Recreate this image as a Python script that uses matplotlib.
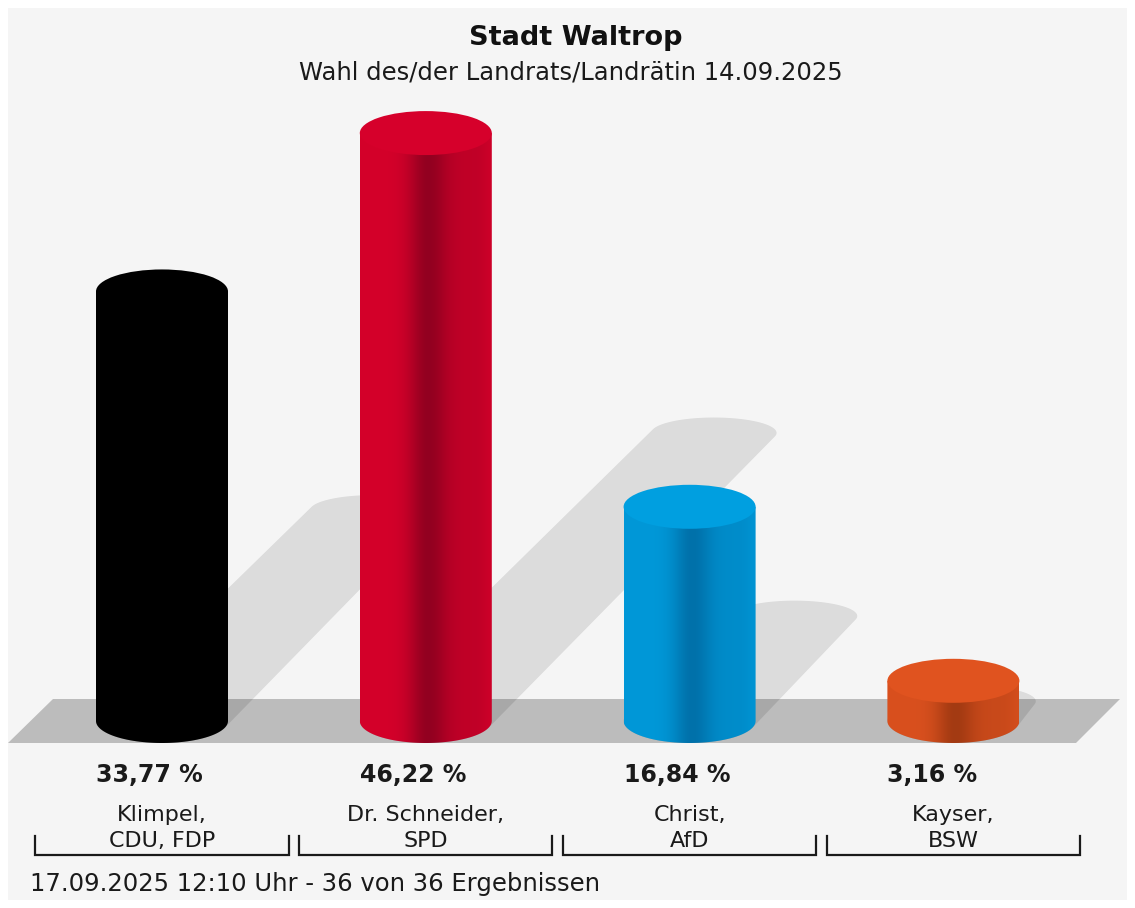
import numpy as np
import matplotlib.pyplot as plt
from matplotlib.colors import to_rgb
from matplotlib.patches import Polygon, Ellipse, Rectangle

# data
names = ["Klimpel,\nCDU, FDP", "Dr. Schneider,\nSPD", "Christ,\nAfD", "Kayser,\nBSW"]
values = [33.77, 46.22, 16.84, 3.16]
side_light = ["#000000", "#d4002a", "#0098d8", "#d9501e"]
side_dark = ["#000000", "#920020", "#0071aa", "#a33a12"]
top_colors = ["#000000", "#d6002b", "#009fe0", "#e0531f"]
title = "Stadt Waltrop"
subtitle = "Wahl des/der Landrats/Landrätin 14.09.2025"
footer = "17.09.2025 12:10 Uhr - 36 von 36 Ergebnissen"

# layout in pixels of the 1135x908 picture
W, H = 1135, 908
X0, DX = 162, 263.8   # centre of first bar, spacing
Y0, DY = 721, 12.72   # baseline (from top), px per percent
A, B = 66, 22         # cylinder radii
S = 0.49              # shadow shear


def xd(px):
    return (px - X0) / DX


def yd(py):
    return (Y0 - py) / DY


def hull(pts):
    '''monotone chain convex hull'''
    pts = sorted(map(tuple, pts))

    def cross(o, a, b):
        return (a[0] - o[0]) * (b[1] - o[1]) - (a[1] - o[1]) * (b[0] - o[0])
    lower, upper = [], []
    for p in pts:
        while len(lower) >= 2 and cross(lower[-2], lower[-1], p) <= 0:
            lower.pop()
        lower.append(p)
    for p in reversed(pts):
        while len(upper) >= 2 and cross(upper[-2], upper[-1], p) <= 0:
            upper.pop()
        upper.append(p)
    return lower[:-1] + upper[:-1]


fig = plt.figure(figsize=(W / 100, H / 100), dpi=100, facecolor="white")
ax = fig.add_axes([0, 0, 1, 1])
ax.axis("off")

a = A / DX
b = B / DY
th = np.linspace(0, 2 * np.pi, 120)

# grey panel with white margin
ax.add_patch(Rectangle((8 / W, 8 / H), (W - 16) / W, (H - 16) / H,
                       transform=ax.transAxes, fc="#f5f5f5", ec="none", zorder=0))

# floor
ax.add_patch(Polygon([(xd(53), yd(699)), (xd(1120), yd(699)), (xd(1076), yd(743)), (xd(8), yd(743))],
                     closed=True, fc="#bcbcbc", ec="none", zorder=1))

for i, v in enumerate(values):
    # shadow
    dx = S * v * DY / DX
    dy = S * v
    base = np.column_stack([i + a * np.cos(th), b * np.sin(th)])
    top = np.column_stack([i + dx + a * 0.95 * np.cos(th), dy + 0.7 * b * np.sin(th)])
    ax.add_patch(Polygon(hull(np.vstack([base, top])), closed=True, fc="black",
                         alpha=0.1, ec="none", zorder=2))

    # cylinder side with gradient
    arc = np.linspace(np.pi, 2 * np.pi, 60)
    verts = [(i - a, v), (i - a, 0)] + list(zip(i + a * np.cos(arc), b * np.sin(arc))) + [(i + a, v)]
    body = Polygon(verts, closed=True, fc="none", ec="none", zorder=3)
    ax.add_patch(body)
    t = np.linspace(0, 1, 200)
    w = np.where(t < 0.52, np.exp(-((t - 0.52) / 0.15) ** 2),
                 0.3 + 0.7 * np.exp(-((t - 0.52) / 0.14) ** 2))
    w = w * (1 - np.exp(-((1 - t) / 0.07) ** 2) * 0.6)
    c1 = np.array(to_rgb(side_light[i]))
    c2 = np.array(to_rgb(side_dark[i]))
    grad = c1[None, :] * (1 - w[:, None]) + c2[None, :] * w[:, None]
    im = ax.imshow(grad[None, :, :], extent=[i - a, i + a, -b, v], aspect="auto",
                   interpolation="bilinear", zorder=3)
    im.set_clip_path(body)

    # top face
    ax.add_patch(Ellipse((i, v), 2 * a, 2 * b, fc=top_colors[i], ec="none", zorder=4))

    # labels
    ax.text(i - a, yd(775), f"{v:.2f}".replace(".", ",") + " %", ha="left", va="center",
            fontsize=17, fontweight="bold", color="#1a1a1a")
    ax.text(i, yd(828), names[i], ha="center", va="center", fontsize=16,
            linespacing=1.35, color="#1a1a1a")
    hw = 126.5 / DX
    ax.plot([i - hw, i - hw, i + hw, i + hw], [yd(836), yd(855), yd(855), yd(836)],
            color="#1a1a1a", lw=1.6, solid_joinstyle="miter", zorder=5)

ax.text(xd(576), yd(38), title, ha="center", va="center", fontsize=19.5,
        fontweight="bold", color="#111111")
ax.text(xd(571), yd(72), subtitle, ha="center", va="center", fontsize=17.5, color="#1a1a1a")
ax.text(xd(30), yd(884), footer, ha="left", va="center", fontsize=17.5, color="#1a1a1a")

ax.set_xlim(xd(0), xd(W))
ax.set_ylim(yd(H), yd(0))

fig.savefig("out.png", dpi=100, facecolor=fig.get_facecolor())
